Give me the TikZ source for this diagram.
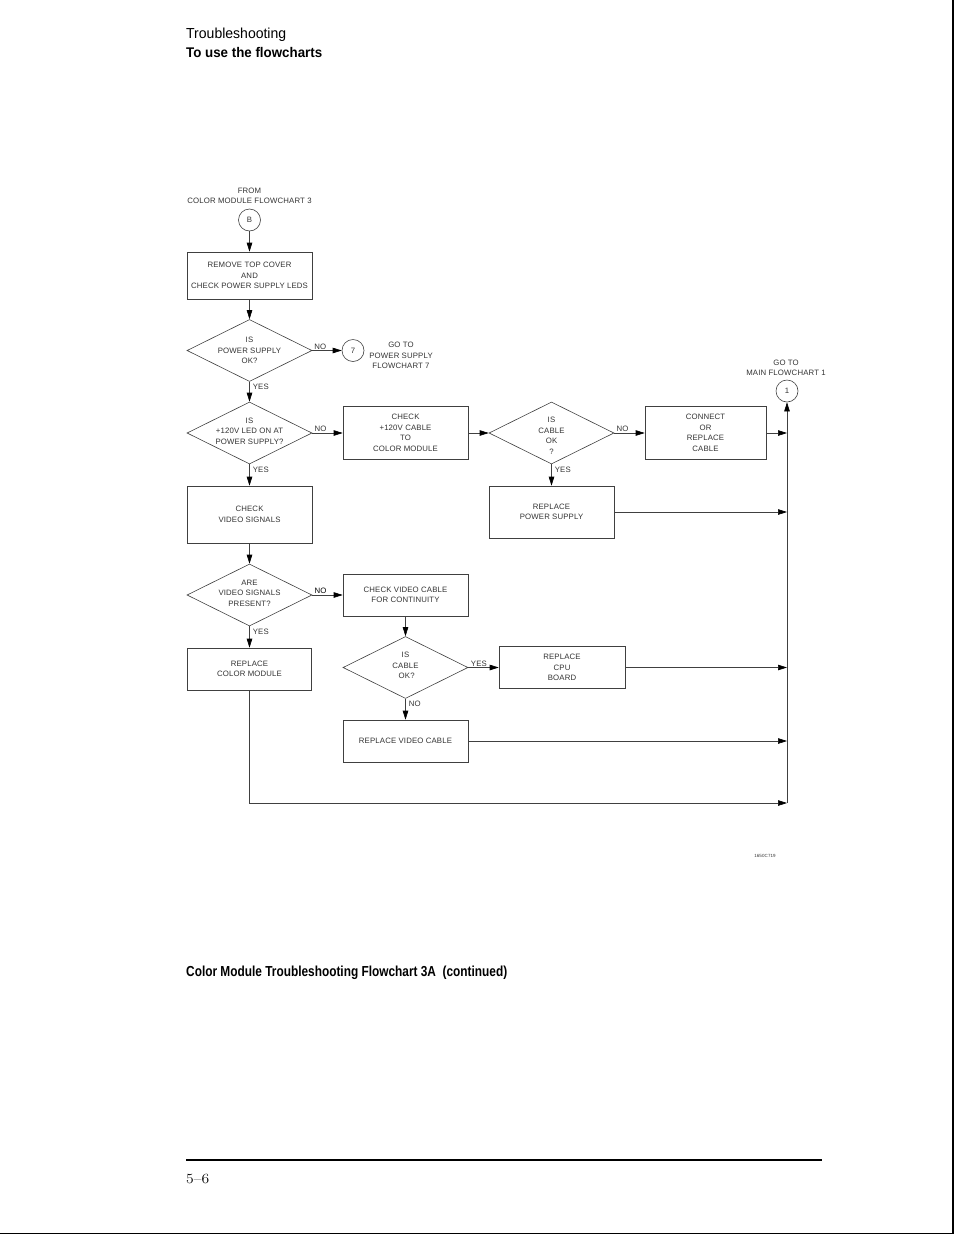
\documentclass[tikz,border=0pt]{standalone}
\usepackage{fontspec}
\usepackage{graphicx}
\usetikzlibrary{shapes.geometric,arrows.meta}
\newfontfamily\hdrfont{Liberation Sans}
\newfontfamily\cadfont[LetterSpace=2]{Liberation Sans}
\tikzset{
  cad/.style={font={\cadfont\fontsize{7.8}{10.5}\selectfont}, text=black!80},
  box/.style={draw=black!75, line width=0.6pt, inner sep=0pt, align=center, cad},
  dia/.style={diamond, draw=black!75, line width=0.6pt, minimum width=125pt, minimum height=62pt, inner sep=0pt},
  circ/.style={circle, draw=black!75, line width=0.6pt, minimum size=22pt, inner sep=0pt, cad},
  arr/.style={draw=black!75, line width=0.6pt, -{Triangle[length=9pt,width=5.5pt,color=black]}},
  ln/.style={draw=black!75, line width=0.6pt},
  lbl/.style={cad, inner sep=1pt},
  txt/.style={cad, align=center, inner sep=0pt},
}
\begin{document}
\begin{tikzpicture}[x=1pt,y=-1pt]
\useasboundingbox (0,0) rectangle (954,1235);
% page frame
\draw[line width=1.5pt] (953,0) -- (953,1233.5) -- (0,1233.5);
% header
\node[anchor=base west, inner sep=0pt] (h1) at (186,38) {\resizebox{100pt}{\height}{\hdrfont\fontsize{14.5}{16}\selectfont Troubleshooting}};
\node[anchor=base west, inner sep=0pt] (h2) at (186,57) {\resizebox{136pt}{\height}{\hdrfont\bfseries\fontsize{14}{16}\selectfont To use the flowcharts}};

% entry
\node[txt] (from) at (249.5,196) {FROM\\COLOR MODULE FLOWCHART 3};
\node[circ] (cB) at (249.5,220) {B};
\node[box, minimum width=125pt, minimum height=47pt] (b1) at (249.5,275.5) {REMOVE TOP COVER\\AND\\CHECK POWER SUPPLY LEDS};

\node[dia] (d1) at (249.5,350.5) {};
\node[txt] at (d1) {IS\\POWER SUPPLY\\OK?};
\node[circ] (c7) at (353,350.5) {7};
\node[txt] (goto7) at (401,355.5) {GO TO\\POWER SUPPLY\\FLOWCHART 7};

\node[dia] (d2) at (249.5,433) {};
\node[txt] at ([yshift=2pt]d2.center) {IS\\+120V LED ON AT\\POWER SUPPLY?};
\node[box, minimum width=125pt, minimum height=53pt] (b2) at (405.5,433) {CHECK\\+120V CABLE\\TO\\COLOR MODULE};
\node[dia] (d3) at (551.5,433) {};
\node[txt] at ([yshift=-3pt]d3.center) {IS\\CABLE\\OK\\?};
\node[box, minimum width=121pt, minimum height=53pt] (b3) at (705.5,433) {CONNECT\\OR\\REPLACE\\CABLE};

\node[circ] (c1) at (787,391) {1};
\node[txt] (goto1) at (786,368) {GO TO\\MAIN FLOWCHART 1};

\node[box, minimum width=125pt, minimum height=52pt] (b4) at (551.5,512) {REPLACE\\POWER SUPPLY};
\node[box, minimum width=125pt, minimum height=57pt] (b5) at (249.5,514.5) {CHECK\\VIDEO SIGNALS};

\node[dia] (d4) at (249.5,595) {};
\node[txt] at ([yshift=2pt]d4.center) {ARE\\VIDEO SIGNALS\\PRESENT?};
\node[box, minimum width=125pt, minimum height=42pt] (b6) at (405.5,595) {CHECK VIDEO CABLE\\FOR CONTINUITY};

\node[dia] (d5) at (405.5,667.5) {};
\node[txt] at ([yshift=2pt]d5.center) {IS\\CABLE\\\ OK?};
\node[box, minimum width=126pt, minimum height=42pt] (b7) at (562,667.5) {REPLACE\\CPU\\BOARD};
\node[box, minimum width=125pt, minimum height=42pt] (b8) at (405.5,741) {REPLACE VIDEO CABLE};
\node[box, minimum width=124pt, minimum height=42pt] (b9) at (249.5,669) {REPLACE\\COLOR MODULE};

% junction coordinates on the return line
\coordinate (j1) at (787,433);
\coordinate (j2) at (787,512);
\coordinate (j3) at (787,667.5);
\coordinate (j4) at (787,741);
\coordinate (j5) at (787,803);
\coordinate (k9) at (249.5,803);

% connectors
\draw[arr] (cB) -- (b1);
\draw[arr] (b1) -- (d1);
\draw[arr] (d1.east) -- node[lbl, pos=0.27, above]{NO} (c7);
\draw[arr] (d1.south) -- node[lbl, pos=0.25, right, xshift=2pt]{YES} (d2.north);
\draw[arr] (d2.east) -- node[lbl, pos=0.27, above]{NO} (b2.west);
\draw[arr] (b2.east) -- (d3.west);
\draw[arr] (d3.east) -- node[lbl, pos=0.27, above]{NO} (b3.west);
\draw[arr] (b3.east) -- (j1);
\draw[arr] (d3.south) -- node[lbl, pos=0.25, right, xshift=2pt]{YES} (b4.north);
\draw[arr] (b4.east) -- (j2);
\draw[arr] (d2.south) -- node[lbl, pos=0.25, right, xshift=2pt]{YES} (b5.north);
\draw[arr] (b5.south) -- (d4.north);
\draw[arr] (d4.east) -- node[lbl, pos=0.27, above, text=black]{NO} (b6.west);
\draw[arr] (b6.south) -- (d5.north);
\draw[arr] (d5.east) -- node[lbl, pos=0.35, above]{YES} (b7.west);
\draw[arr] (b7.east) -- (j3);
\draw[arr] (d5.south) -- node[lbl, pos=0.25, right, xshift=2pt]{NO} (b8.north);
\draw[arr] (b8.east) -- (j4);
\draw[arr] (d4.south) -- node[lbl, pos=0.25, right, xshift=2pt]{YES} (b9.north);
\draw[arr] (b9.south) -- (k9) -- (j5);
\draw[arr] (j5) -- (c1.south);

% drawing number
\node[cad, font={\cadfont\fontsize{4.5}{5}\selectfont}] (dwg) at (765,856) {1650C719};

% caption
\node[anchor=base west, inner sep=0pt] (cap) at (186,976) {\resizebox{321pt}{\height}{\hdrfont\bfseries\fontsize{14.5}{16}\selectfont Color Module Troubleshooting Flowchart 3A\ \ (continued)}};

% footer
\draw[line width=1.2pt] (186,1160) -- (822,1160);
\node[anchor=base west, inner sep=0pt] (pg) at (186,1183) {\resizebox{23pt}{\height}{\fontsize{14}{16}\selectfont 5--6}};
\end{tikzpicture}
\end{document}
